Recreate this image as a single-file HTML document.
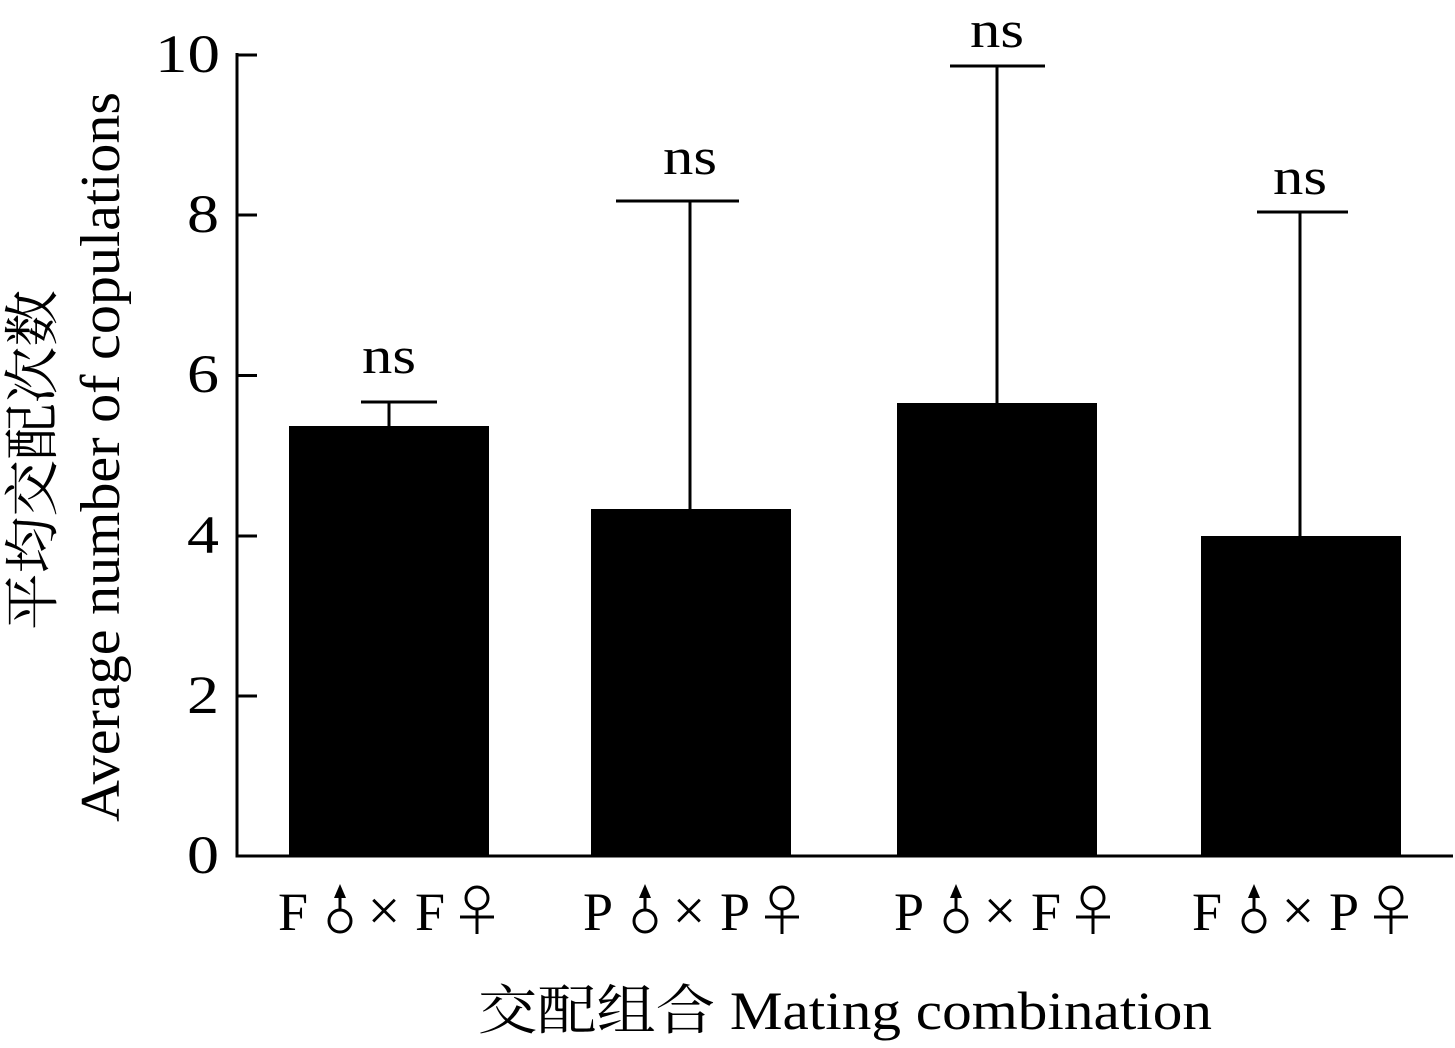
<!DOCTYPE html>
<html><head><meta charset="utf-8"><style>
html,body{margin:0;padding:0;background:#fff;}
svg{display:block;}
text{font-family:"Liberation Serif","Noto Serif CJK SC",serif;fill:#000;}
</style></head><body>
<svg width="1455" height="1048" viewBox="0 0 1455 1048">
<defs>
<g id="m" stroke="#000" stroke-width="3" fill="none">
<circle cx="0" cy="921" r="11"/>
<line x1="0" y1="910" x2="0" y2="890"/>
<polygon points="0,884 -6,898 6,898" fill="#000" stroke="none"/>
</g>
<g id="f" stroke="#000" stroke-width="3" fill="none">
<circle cx="0" cy="898" r="11"/>
<line x1="0" y1="909" x2="0" y2="934"/>
<line x1="-17" y1="917" x2="17" y2="917"/>
</g>
</defs>
<g stroke="#000" stroke-width="3" fill="none">
<line x1="237" y1="53" x2="237" y2="857.5"/>
<line x1="235.5" y1="856" x2="1453" y2="856"/>
<line x1="237" y1="55" x2="257" y2="55"/>
<line x1="237" y1="215" x2="257" y2="215"/>
<line x1="237" y1="375.5" x2="257" y2="375.5"/>
<line x1="237" y1="536" x2="257" y2="536"/>
<line x1="237" y1="696" x2="257" y2="696"/>
<line x1="389" y1="402" x2="389" y2="427"/><line x1="361" y1="402" x2="437" y2="402"/>
<line x1="690" y1="201" x2="690" y2="510"/><line x1="616" y1="201" x2="739" y2="201"/>
<line x1="997" y1="66" x2="997" y2="404"/><line x1="950" y1="66" x2="1045" y2="66"/>
<line x1="1300" y1="212" x2="1300" y2="537"/><line x1="1257" y1="212" x2="1348" y2="212"/>
</g>
<rect x="289" y="426" width="200" height="430" fill="#000"/>
<rect x="591" y="509" width="200" height="347" fill="#000"/>
<rect x="897" y="403" width="200" height="453" fill="#000"/>
<rect x="1201" y="536" width="200" height="320" fill="#000"/>
<g font-size="54">
<text x="155" y="72" textLength="65" lengthAdjust="spacingAndGlyphs">10</text>
<text x="187" y="232" textLength="32" lengthAdjust="spacingAndGlyphs">8</text>
<text x="187" y="392" textLength="32" lengthAdjust="spacingAndGlyphs">6</text>
<text x="187" y="553" textLength="32" lengthAdjust="spacingAndGlyphs">4</text>
<text x="187" y="713" textLength="32" lengthAdjust="spacingAndGlyphs">2</text>
<text x="187" y="873" textLength="32" lengthAdjust="spacingAndGlyphs">0</text>
</g>
<g font-size="52">
<text x="362" y="373" textLength="54" lengthAdjust="spacingAndGlyphs">ns</text>
<text x="663" y="174" textLength="54" lengthAdjust="spacingAndGlyphs">ns</text>
<text x="970" y="47" textLength="54" lengthAdjust="spacingAndGlyphs">ns</text>
<text x="1273" y="194" textLength="54" lengthAdjust="spacingAndGlyphs">ns</text>
</g>
<g font-size="54">
<g transform="translate(278,0)"><text x="0" y="930">F</text><use href="#m" x="62"/><text x="106" y="930" text-anchor="middle" font-size="58">×</text><text x="137" y="930">F</text><use href="#f" x="199"/></g>
<g transform="translate(583,0)"><text x="0" y="930">P</text><use href="#m" x="62"/><text x="106" y="930" text-anchor="middle" font-size="58">×</text><text x="137" y="930">P</text><use href="#f" x="199"/></g>
<g transform="translate(894,0)"><text x="0" y="930">P</text><use href="#m" x="62"/><text x="106" y="930" text-anchor="middle" font-size="58">×</text><text x="137" y="930">F</text><use href="#f" x="199"/></g>
<g transform="translate(1192,0)"><text x="0" y="930">F</text><use href="#m" x="62"/><text x="106" y="930" text-anchor="middle" font-size="58">×</text><text x="137" y="930">P</text><use href="#f" x="199"/></g>
<text x="478" y="1029" font-size="54" textLength="734" lengthAdjust="spacingAndGlyphs">交配组合  Mating combination</text>
</g>
<g font-size="56">
<text transform="translate(52,630) rotate(-90)" textLength="340" lengthAdjust="spacingAndGlyphs">平均交配次数</text>
<text transform="translate(119,822) rotate(-90)" textLength="730" lengthAdjust="spacingAndGlyphs">Average number of copulations</text>
</g>
</svg>
</body></html>
